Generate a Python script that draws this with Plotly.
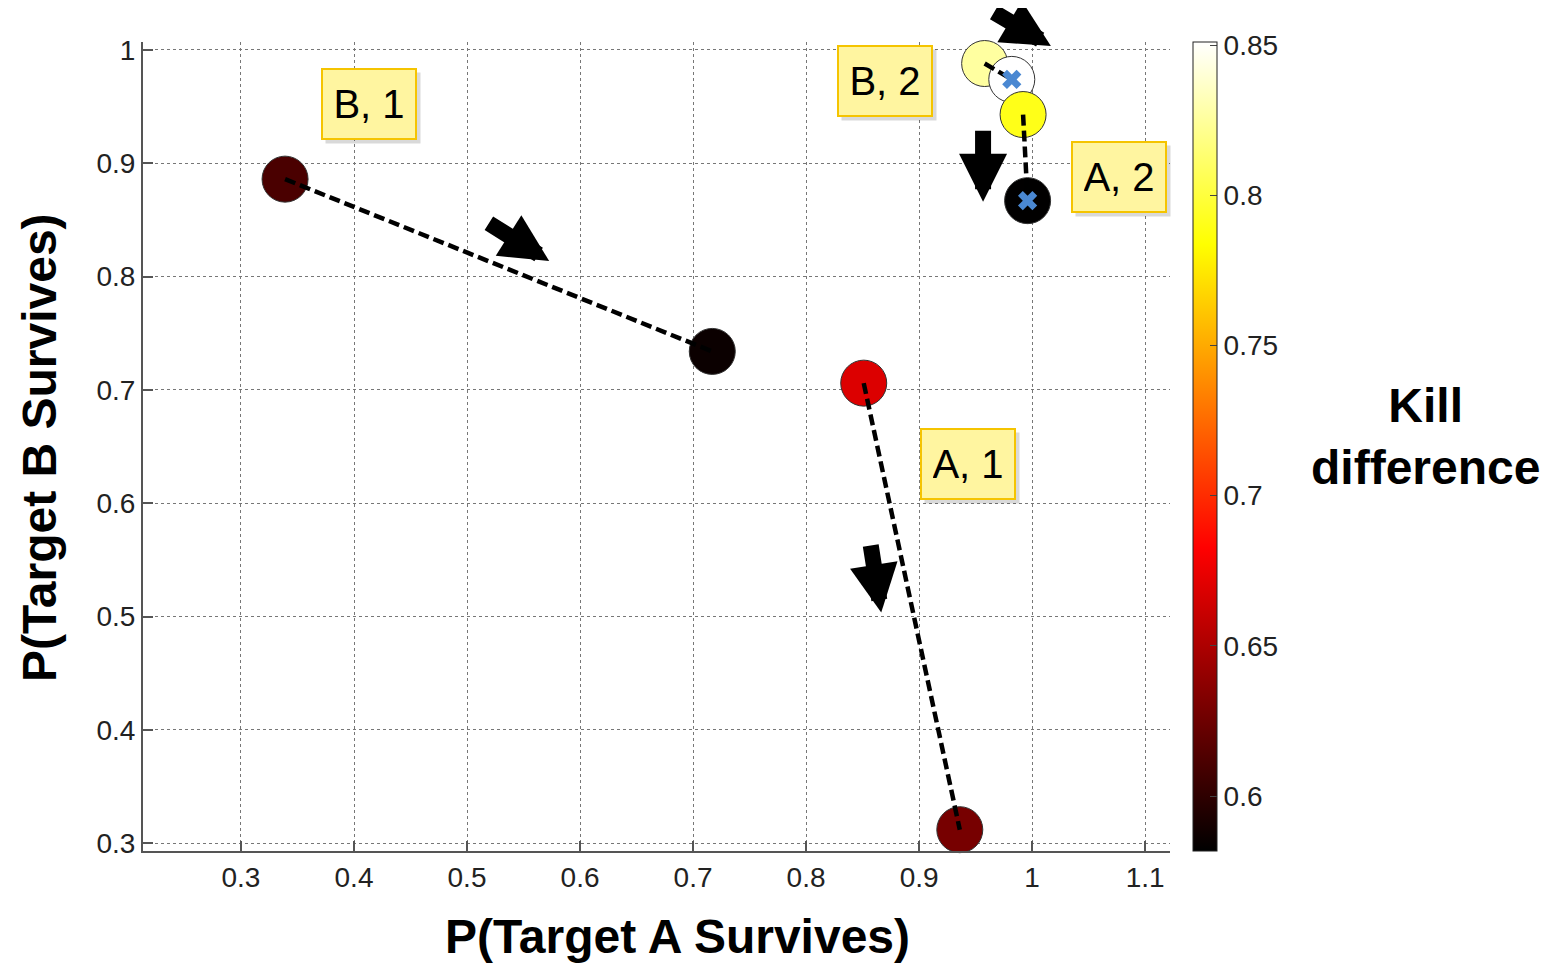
import plotly.graph_objects as go

# ---- data ----
point_names = ["B1_start", "B1_end", "A1_start", "A1_end", "B2_start", "B2_end", "A2_start", "A2_end"]
p_a_survives = [0.339, 0.717, 0.851, 0.936, 0.958, 0.982, 0.992, 0.996]
p_b_survives = [0.886, 0.734, 0.706, 0.312, 0.988, 0.974, 0.943, 0.867]
kill_difference = [0.611, 0.586, 0.669, 0.629, 0.826, 0.851, 0.790, 0.582]

# segments (start index, end index)
segments = [(0, 1), (2, 3), (4, 5), (6, 7)]
cross_points = [5, 7]

label_texts = ["B, 1", "A, 1", "B, 2", "A, 2"]
label_x = [0.4133, 0.943, 0.870, 1.077]
label_y = [0.952, 0.635, 0.9726, 0.888]

# arrows: tail (ax, ay) -> head (x, y)
arrow_tail_x = [0.965, 0.9566, 0.518, 0.857]
arrow_tail_y = [1.034, 0.930, 0.848, 0.564]
arrow_head_x = [1.0166, 0.9566, 0.5727, 0.8665]
arrow_head_y = [1.0034, 0.866, 0.8137, 0.5037]

x_ticks = [0.3, 0.4, 0.5, 0.6, 0.7, 0.8, 0.9, 1.0, 1.1]
x_tick_labels = ["0.3", "0.4", "0.5", "0.6", "0.7", "0.8", "0.9", "1", "1.1"]
y_ticks = [0.3, 0.4, 0.5, 0.6, 0.7, 0.8, 0.9, 1.0]
y_tick_labels = ["0.3", "0.4", "0.5", "0.6", "0.7", "0.8", "0.9", "1"]
cb_ticks = [0.6, 0.65, 0.7, 0.75, 0.8, 0.85]
cb_tick_labels = ["0.6", "0.65", "0.7", "0.75", "0.8", "0.85"]

hot = [[0.0, "#000000"], [0.375, "#ff0000"], [0.75, "#ffff00"], [1.0, "#ffffff"]]
FONT = "Liberation Sans, Arial, sans-serif"

# page layout (the page body adds an 8px offset)
OFF = 8
W, H = 1554 - OFF, 963 - OFF
L, R, T, B = 143 - OFF, 384, 42 - OFF, 112
pw, ph = W - L - R, H - T - B


def px_to_paper(px, py):
    """screen pixel position -> paper coords"""
    return (px - OFF - L) / pw, 1 - (py - OFF - T) / ph


fig = go.Figure()

# circles
fig.add_trace(go.Scatter(
    x=p_a_survives, y=p_b_survives, mode="markers",
    marker=dict(size=46, color=kill_difference, colorscale=hot,
                cmin=0.5817, cmax=0.851,
                line=dict(color="#333333", width=1),
                colorbar=dict(
                    x=(1193 - OFF - L) / pw, xanchor="left", y=0.5, yanchor="middle",
                    len=1.0, lenmode="fraction", thickness=24,
                    outlinecolor="#222222", outlinewidth=1,
                    tickvals=cb_ticks, ticktext=cb_tick_labels,
                    ticks="inside", ticklen=7, tickcolor="#444444",
                    tickfont=dict(family=FONT, size=28, color="#222222"),
                    xpad=0, ypad=0,
                )),
    showlegend=False, hoverinfo="skip", cliponaxis=False,
))

# dashed segments
for s, e in segments:
    fig.add_trace(go.Scatter(
        x=[p_a_survives[s], p_a_survives[e]], y=[p_b_survives[s], p_b_survives[e]],
        mode="lines", line=dict(color="black", width=4.5, dash="11px,5px"),
        showlegend=False, hoverinfo="skip", cliponaxis=False,
    ))

# blue crosses
fig.add_trace(go.Scatter(
    x=[p_a_survives[i] for i in cross_points], y=[p_b_survives[i] for i in cross_points],
    mode="markers", marker=dict(symbol="x", size=17, color="#4a88d2", line=dict(width=0)),
    showlegend=False, hoverinfo="skip", cliponaxis=False,
))

annotations = []
# arrows
for tx, ty, hx, hy in zip(arrow_tail_x, arrow_tail_y, arrow_head_x, arrow_head_y):
    annotations.append(dict(
        x=hx, y=hy, ax=tx, ay=ty, xref="x", yref="y", axref="x", ayref="y",
        text="", showarrow=True, arrowhead=2, arrowsize=0.6, arrowwidth=16,
        arrowcolor="black", standoff=0, startstandoff=0,
    ))
# label boxes (shadow + box)
for t, lx, ly in zip(label_texts, label_x, label_y):
    annotations.append(dict(
        x=lx, y=ly, xref="x", yref="y", text="&nbsp;", showarrow=False,
        font=dict(family=FONT, size=40, color="rgba(0,0,0,0)"),
        bgcolor="rgba(0,0,0,0.15)", borderpad=12, width=70, height=46,
        xshift=4, yshift=-4,
    ))
    annotations.append(dict(
        x=lx, y=ly, xref="x", yref="y", text=t, showarrow=False,
        font=dict(family=FONT, size=40, color="black"),
        bgcolor="#fff5a0", bordercolor="#f5c400", borderwidth=2,
        borderpad=11, width=70, height=46,
    ))
# axis titles and colorbar title
for txt, (sx, sy), ang in [("<b>P(Target A Survives)</b>", (677, 937), 0),
                           ("<b>P(Target B Survives)</b>", (40, 448), -90),
                           ("<b>Kill<br>difference</b>", (1425, 436), 0)]:
    px, py = px_to_paper(sx, sy)
    annotations.append(dict(
        x=px, y=py, xref="paper", yref="paper", text=txt, showarrow=False,
        xanchor="center", yanchor="middle", textangle=ang, align="center",
        font=dict(family=FONT, size=48, color="black"),
    ))

fig.update_layout(
    width=W, height=H, margin=dict(l=L, r=R, t=T, b=B),
    plot_bgcolor="white", paper_bgcolor="white",
    annotations=annotations,
    xaxis=dict(range=[0.2133, 1.122], tickvals=x_ticks, ticktext=x_tick_labels,
               showgrid=True, gridcolor="#777777", griddash="dot", gridwidth=1,
               showline=True, linecolor="#555555", linewidth=2, mirror=False,
               ticks="inside", ticklen=10, tickcolor="#555555", tickwidth=1.5,
               tickfont=dict(family=FONT, size=28, color="#222222"), zeroline=False),
    yaxis=dict(range=[0.2932, 1.007], tickvals=y_ticks, ticktext=y_tick_labels,
               showgrid=True, gridcolor="#777777", griddash="dot", gridwidth=1,
               showline=True, linecolor="#555555", linewidth=2, mirror=False,
               ticks="inside", ticklen=10, tickcolor="#555555", tickwidth=1.5,
               tickfont=dict(family=FONT, size=28, color="#222222"), zeroline=False),
)

fig.write_html("out.html")
